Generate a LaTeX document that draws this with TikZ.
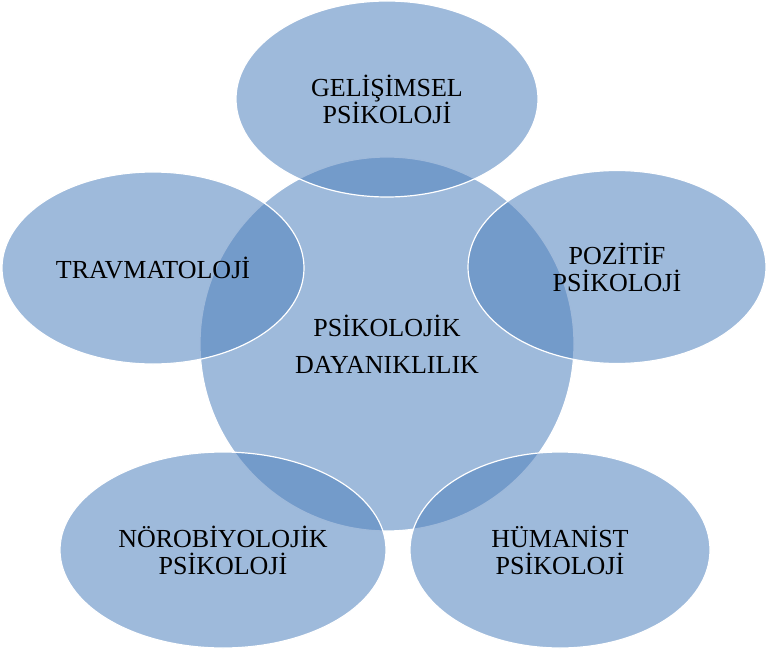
\documentclass[tikz,border=0pt]{standalone}
\usepackage{fontspec}
\setmainfont{Liberation Serif}
\usepackage{xcolor}
\usetikzlibrary{shapes.geometric}
\definecolor{bubbleblue}{RGB}{79,129,189}
\tikzset{bubble/.style={ellipse,draw=white,line width=1.2pt,fill=bubbleblue,fill opacity=0.55,
    text opacity=1,inner sep=0pt,align=center,font=\fontsize{26bp}{27bp}\selectfont}}

\begin{document}
\begin{tikzpicture}[x=1bp,y=-1bp]
  % Frame
  \useasboundingbox (0,0) rectangle (766,654);

  % Core
  \node[bubble,circle,minimum size=374bp,font=\fontsize{26bp}{37bp}\selectfont] (core) at (387,344) {PSİKOLOJİK\\DAYANIKLILIK};

  % Fields
  \node[bubble,minimum width=302bp,minimum height=196bp] (gelisim) at (387,99) {GELİŞİMSEL\\PSİKOLOJİ};
  \node[bubble,minimum width=302bp,minimum height=192bp] (travma) at (153,268) {TRAVMATOLOJİ};
  \node[bubble,minimum width=298bp,minimum height=193bp] (pozitif) at (617,267) {POZİTİF\\PSİKOLOJİ};
  \node[bubble,minimum width=326bp,minimum height=196bp] (noro) at (223,550) {NÖROBİYOLOJİK\\PSİKOLOJİ};
  \node[bubble,minimum width=300bp,minimum height=196bp] (humanist) at (560,550) {HÜMANİST\\PSİKOLOJİ};
\end{tikzpicture}
\end{document}
